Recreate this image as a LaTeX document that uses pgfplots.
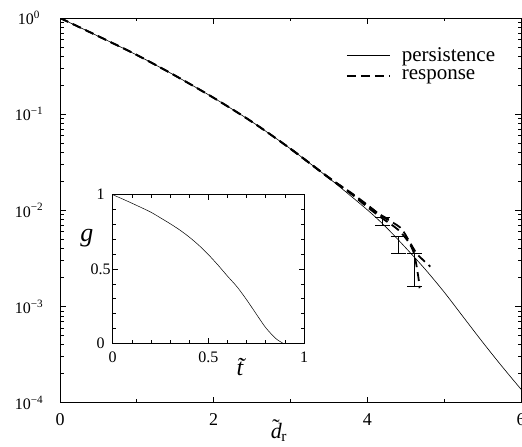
\documentclass[border=0pt]{standalone}
\usepackage{fontspec}
\setmainfont{Liberation Serif}
\usepackage{pgfplots}
\pgfplotsset{compat=1.18}
\begin{document}
\begin{tikzpicture}
\begin{axis}[
  at={(0pt,0pt)}, anchor=south west,
  scale only axis, width=461pt, height=384.7pt,
  xmin=0, xmax=6, ymin=1e-4, ymax=1, ymode=log,
  xtick={0,2,4,6}, xticklabels={0,2,4,6}, minor x tick num=1,
  ytick={1e-4,1e-3,1e-2,1e-1,1},
  yticklabels={10\textsuperscript{−4},10\textsuperscript{−3},10\textsuperscript{−2},10\textsuperscript{−1},10\textsuperscript{0}},
  tick align=inside, major tick length=6pt, minor tick length=3.5pt,
  axis line style={line width=0.9pt},
  every tick/.style={line width=0.7pt, black},
  xticklabel style={font=\fontsize{18}{18}\selectfont, yshift=-7pt},
  yticklabel style={font=\fontsize{16}{16}\selectfont, anchor=center, xshift=-31pt},
  xlabel={\rlap{\hspace{1.5pt}\raisebox{4.5pt}{\char"02DC}}\textit{d}\kern-0.5pt\textsubscript{r}},
  xlabel style={font=\fontsize{22}{22}\selectfont, at={(axis description cs:0.475,-0.072)}, anchor=center},
  legend style={draw=none, fill=none, at={(0.62,0.93)}, anchor=north west, inner sep=0pt,
    font=\fontsize{21}{21}\selectfont, row sep=3.5pt, column sep=9pt, cells={anchor=west}},
  legend image code/.code={\draw[#1] (0pt,0pt) -- (43pt,0pt);},
]
\addplot[black, line width=0.6pt, smooth] coordinates {
(0,1) (0.5,0.6457) (1.0,0.4121) (1.5,0.2512) (2.0,0.1479) (2.5,0.08318) (3.0,0.04365) (3.5,0.02163) (4.0,0.01012) (4.25,0.006607) (4.5,0.004074) (4.75,0.002455) (5.0,0.001413) (5.25,0.0007762) (5.5,0.0004266) (5.75,0.0002399) (6.0,0.0001380)
};
\addlegendentry{persistence}
\addplot[black, line width=1.8pt, dash pattern=on 9pt off 5pt, smooth] coordinates {
(0,1) (0.5,0.6457) (1.0,0.4121) (1.5,0.2512) (2.0,0.1479) (2.5,0.0833) (3.0,0.0438) (3.5,0.0219) (3.8,0.0148) (4.0,0.0113) (4.2,0.0086) (4.43,0.0066) (4.55,0.0047) (4.65,0.0035) (4.82,0.0026)
};
\addlegendentry{response}
\addplot[black, line width=1.8pt, dash pattern=on 9pt off 5pt, smooth, forget plot] coordinates {
(0,1) (0.5,0.6460) (1.0,0.4125) (1.5,0.2515) (2.0,0.1477) (2.5,0.0830) (3.0,0.0436) (3.5,0.0217) (3.8,0.0146) (4.0,0.0108) (4.2,0.0082) (4.4,0.0063) (4.535,0.0047) (4.61,0.0035) (4.665,0.0020) (4.68,0.00155)
};
\addplot[black, line width=1.8pt, dash pattern=on 9pt off 5pt, smooth, forget plot] coordinates {
(3.0,0.0437) (3.5,0.0219) (3.8,0.0150) (4.0,0.0114) (4.15,0.0092) (4.3,0.0079)
};
\addplot[forget plot, draw=none, mark=none,
  error bars/.cd, y dir=both, y explicit,
  error bar style={draw=black, solid, line width=0.8pt},
  error mark options={rotate=90, mark size=7.5pt, line width=0.8pt, draw=black, solid}]
  table[x=x, y=y, y error plus=ep, y error minus=em] {
x y ep em
4.20 0.0077 0.00081 0.00078
4.40 0.0045 0.00087 0.00091
4.61 0.0025 0.00109 0.00088
};
\end{axis}
\begin{axis}[
  at={(52.7pt,59.4pt)}, anchor=south west,
  scale only axis, width=191.3pt, height=148.6pt,
  xmin=0, xmax=1, ymin=0, ymax=1,
  xtick={0,0.5,1}, xticklabels={0,0.5,1},
  ytick={0,0.5,1}, yticklabels={0,0.5,1},
  minor x tick num=4, minor y tick num=4,
  tick align=inside, major tick length=5pt, minor tick length=3pt,
  axis line style={line width=0.9pt},
  every tick/.style={line width=0.6pt, black},
  axis background/.style={fill=white},
  xticklabel style={font=\fontsize{16}{16}\selectfont, yshift=-5pt},
  yticklabel style={font=\fontsize{16}{16}\selectfont, anchor=center, xshift=-12pt},
  xlabel={\textit{\~t}},
  xlabel style={font=\fontsize{24}{24}\selectfont, at={(axis description cs:0.69,-0.16)}, anchor=center},
  ylabel={\textit{g}},
  ylabel style={font=\fontsize{26}{26}\selectfont, at={(axis description cs:-0.135,0.71)}, anchor=center, rotate=-90},
]
\addplot[black, line width=0.5pt, smooth] coordinates {
(0,1.0) (0.05,0.972) (0.1,0.943) (0.15,0.913) (0.2,0.882) (0.25,0.844) (0.3,0.805) (0.35,0.763) (0.4,0.715) (0.45,0.660) (0.5,0.597) (0.55,0.527) (0.6,0.452) (0.65,0.380) (0.7,0.293) (0.75,0.198) (0.8,0.105) (0.85,0.035) (0.875,0.012) (0.89,0.0)
};
\end{axis}
\pgfresetboundingbox
\path[use as bounding box] (-60pt,-44.3pt) rectangle (462pt,402.7pt);
\end{tikzpicture}
\end{document}
